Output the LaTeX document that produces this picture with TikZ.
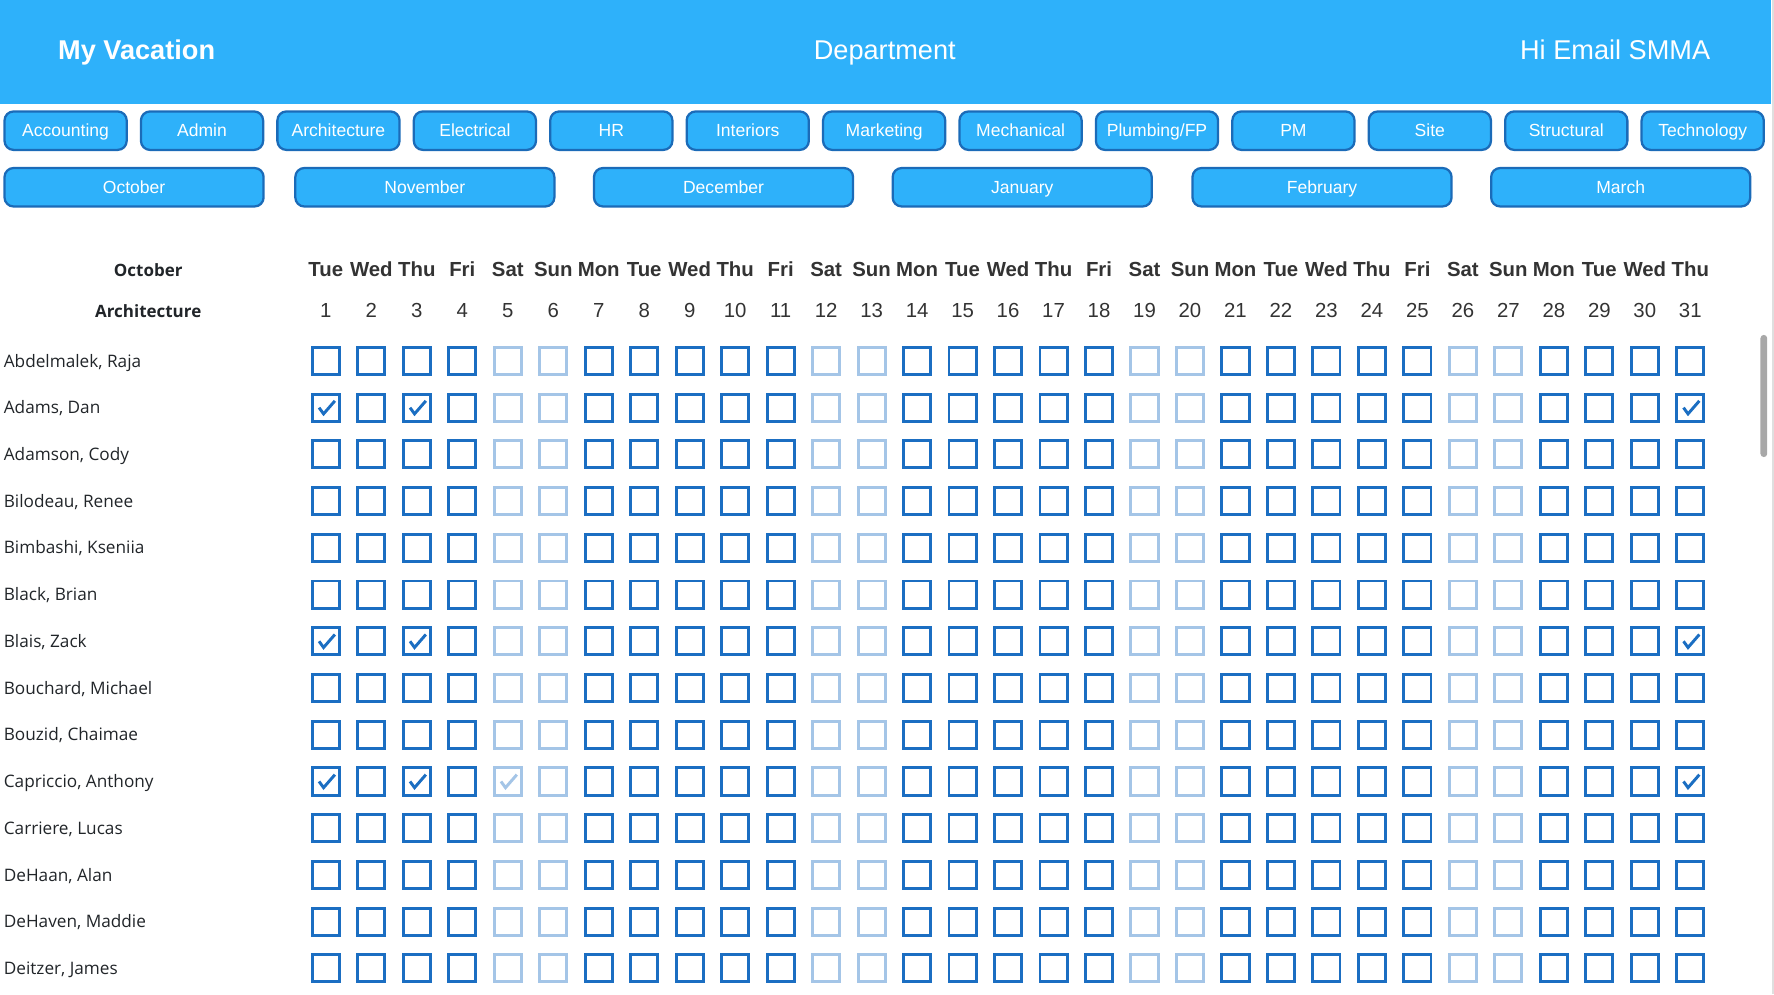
\documentclass[tikz,border=0pt]{standalone}
\usepackage{fontspec}
\setmainfont{Liberation Sans}
\newfontfamily\namefont{Open Sans}

\definecolor{headblue}{HTML}{2EB1FA}
\definecolor{btnline}{HTML}{1B6BB8}
\definecolor{boxblue}{HTML}{1B6EC2}
\definecolor{textgray}{HTML}{333333}
\definecolor{namegray}{HTML}{212529}
\definecolor{scrollgray}{HTML}{A8A8A8}

\tikzset{
  headtext/.style={text=white, inner sep=0pt, font=\fontsize{12}{14}\selectfont},
  deptbtn/.style={draw=btnline, line width=1pt, fill=headblue, rounded corners=4pt,
    minimum width=54pt, minimum height=17pt, inner sep=0pt, text=white,
    text height=5.55pt, text depth=0pt, font=\fontsize{7.75}{9}\selectfont},
  monthbtn/.style={deptbtn, minimum width=114.5pt},
  tablehead/.style={text=namegray, inner sep=0pt, font=\namefont\bfseries\fontsize{7.5}{9}\selectfont},
  dayname/.style={text=textgray, inner sep=0pt, font=\fontsize{9}{11}\selectfont\bfseries},
  daynum/.style={text=textgray, inner sep=0pt, font=\fontsize{9}{11}\selectfont},
  person/.style={anchor=base west, text=namegray, inner sep=0pt, font=\namefont\fontsize{7.6}{9}\selectfont},
  daybox/.style={draw=boxblue, line width=1.3pt, minimum size=12pt, inner sep=0pt},
  offbox/.style={daybox, draw=boxblue!40},
  tick/.style={draw=boxblue, line width=1.3pt},
}

\begin{document}
\begin{tikzpicture}[x=0.5pt, y=-0.5pt]
  \useasboundingbox (0,0) rectangle (1568,879);

  % header bar
  \fill[headblue] (0,0) rectangle (1565,92);
  \fill[gray!25] (1566.5,0) rectangle (1568,879);
  \node[headtext, anchor=base west, font=\fontsize{12}{14}\selectfont\bfseries] (title) at (51,52.6) {My Vacation};
  \node[headtext, anchor=base] (dept) at (782,52.6) {Department};
  \node[headtext, anchor=base east] (hello) at (1512,52.6) {Hi Email SMMA};

  % department buttons
  \foreach \dep [count=\i] in {Accounting, Admin, Architecture, Electrical, HR, Interiors,
      Marketing, Mechanical, Plumbing/FP, PM, Site, Structural, Technology}
    \node[deptbtn] (btn-\i) at ({58+(\i-1)*120.58},115.5) {\dep};

  % month buttons
  \foreach \mon/\x [count=\i] in {October/118.5, November/375.5, December/639.5,
      January/903.5, February/1168.5, March/1432.5}
    \node[monthbtn] (month-\i) at (\x,165.5) {\mon};

  % table head
  \node[tablehead, anchor=base] (monthhead) at (131,244.4) {October};
  \node[tablehead, anchor=base] (depthead) at (131,280.4) {Architecture};
  \foreach \d in {1,...,31} {
    \pgfmathtruncatemacro\w{mod(\d,7)}
    \node[dayname, anchor=base] (day-\d) at ({288+(\d-1)*40.2},244.5)
      {\ifcase\w Mon\or Tue\or Wed\or Thu\or Fri\or Sat\or Sun\fi};
    \node[daynum, anchor=base] (num-\d) at ({288+(\d-1)*40.2},280.5) {\d};
  }

  % people and their days
  \foreach \who [count=\r] in {{Abdelmalek, Raja}, {Adams, Dan}, {Adamson, Cody},
      {Bilodeau, Renee}, {Bimbashi, Kseniia}, {Black, Brian}, {Blais, Zack},
      {Bouchard, Michael}, {Bouzid, Chaimae}, {Capriccio, Anthony}, {Carriere, Lucas},
      {DeHaan, Alan}, {DeHaven, Maddie}, {Deitzer, James}} {
    \node[person] (name-\r) at (3,{319+(\r-1)*41.3+5.4}) {\who};
    \foreach \d in {1,...,31} {
      \pgfmathtruncatemacro\w{mod(\d,7)}
      \ifnum\w>4
        \node[offbox] (box-\r-\d) at ({288+(\d-1)*40.2},{319+(\r-1)*41.3}) {};
      \else
        \node[daybox] (box-\r-\d) at ({288+(\d-1)*40.2},{319+(\r-1)*41.3}) {};
      \fi
    }
  }

  % ticked days
  \foreach \r/\d in {2/1, 2/3, 2/31, 7/1, 7/3, 7/31, 10/1, 10/3, 10/31}
    \draw[tick] ([shift={(-6,0)}]box-\r-\d.center) -- ++(4,5.5) -- ++(10,-11.5);
  \draw[tick, draw=boxblue!40] ([shift={(-6,0)}]box-10-5.center) -- ++(4,5.5) -- ++(10,-11.5);

  % scroll bar
  \fill[scrollgray, rounded corners=1.5pt] (1556,296) rectangle (1562,404);
\end{tikzpicture}
\end{document}
